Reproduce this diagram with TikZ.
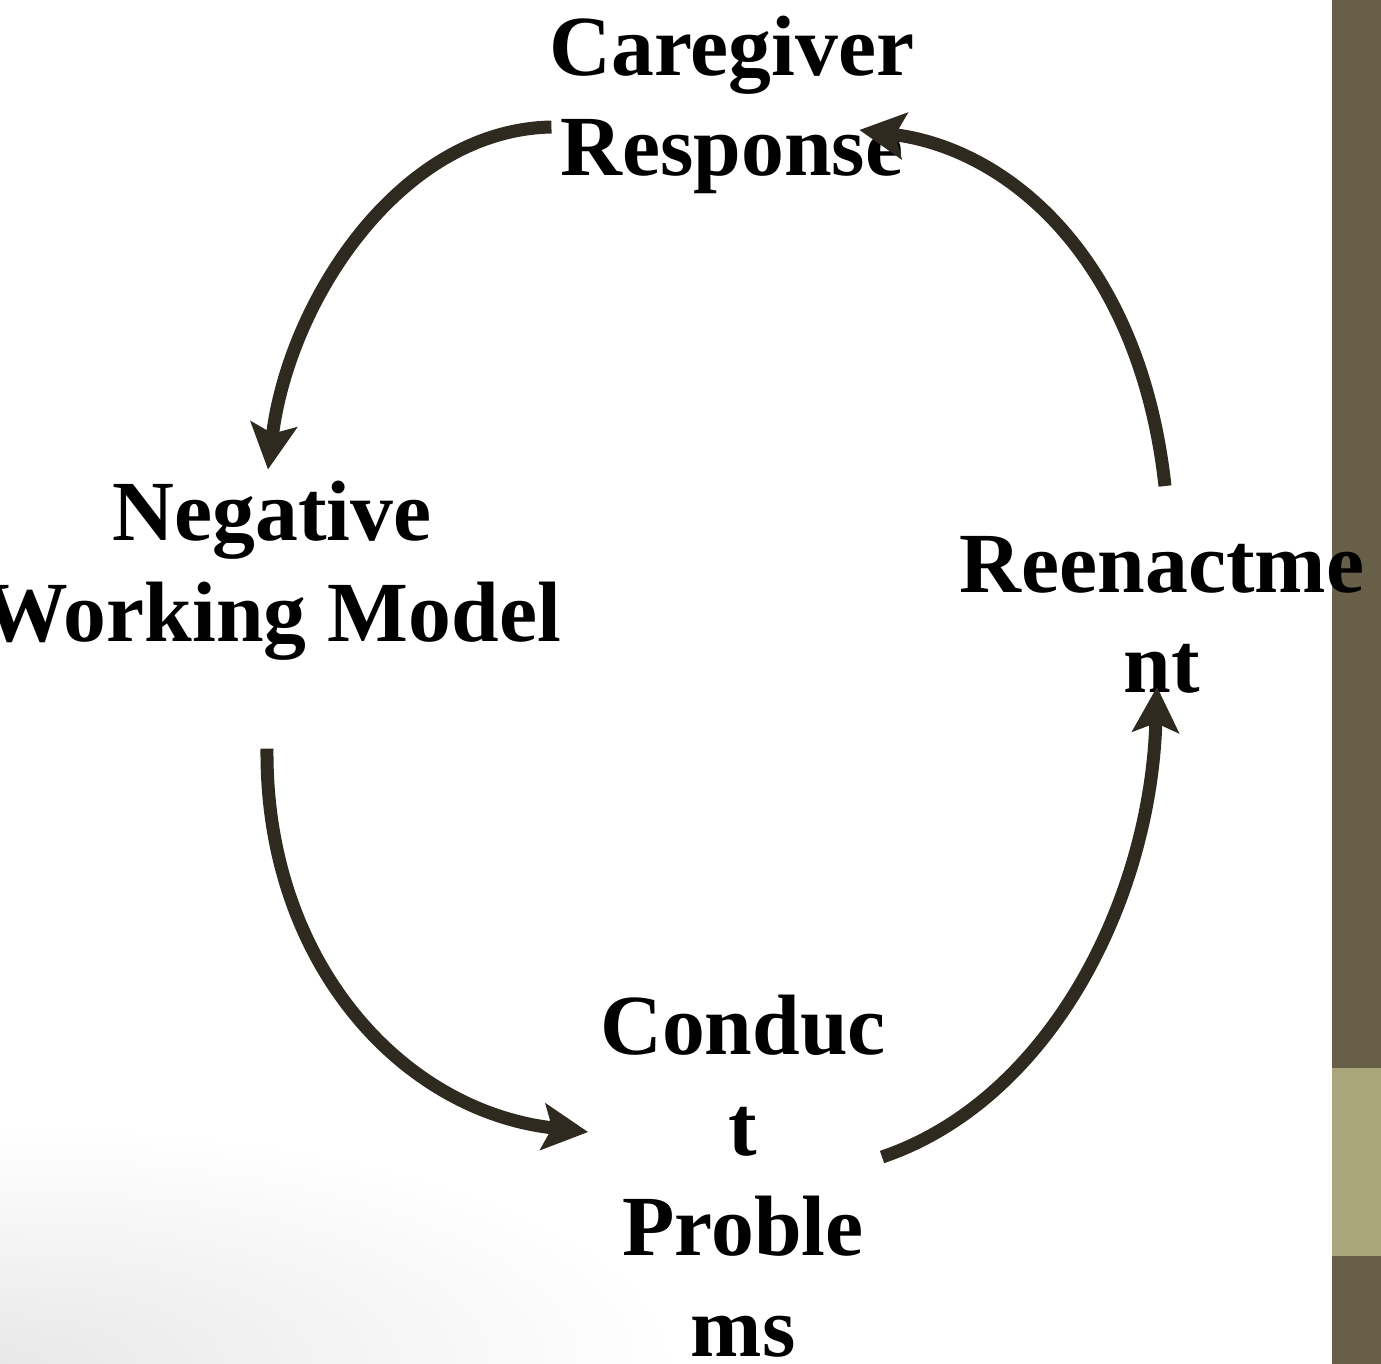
\documentclass[tikz,border=0pt]{standalone}
\usepackage{fontspec}
\setmainfont{Liberation Serif}
\usepackage{xcolor}
\usetikzlibrary{arrows.meta,shapes}
\definecolor{loopArrow}{HTML}{2F2A1F}
\definecolor{barDark}{HTML}{675F48}
\definecolor{barLight}{HTML}{A9A67C}

\begin{document}
\begin{tikzpicture}[x=1bp,y=-1bp,line join=bevel,
  >={Stealth[length=46bp,width=48bp,inset=10bp,line width=1bp]},
  stage/.style={align=center,inner sep=0pt,font=\fontsize{86}{101}\selectfont\bfseries},
  cycle/.style={->,draw=loopArrow,fill=none,line width=13bp}]
\useasboundingbox (0,0) rectangle (1381,1364);
%%
\begin{scope}
  \clip (0,0) rectangle (1332,1364);
  \shade[inner color=black!9,outer color=white] (0,1364) ellipse (680 and 240);
\end{scope}
\fill[barDark] (1332,0) rectangle (1381,1068);
\fill[barLight] (1332,1068) rectangle (1381,1256);
\fill[barDark] (1332,1256) rectangle (1381,1364);
%%
\node (care) at (732,105) [stage] {Caregiver\\Response};
  \node (neg) at (272,571) [stage] {Negative\\Working Model};
  \node (cond) at (743,1176) [stage] {Conduc\\t\\Proble\\ms};
  \node (reen) at (1162,615) [stage] {Reenactme\\nt};
  \draw [cycle] ([shift={(2,22)}]care.west) ..controls (400,130) and (290,300) .. ([shift={(-4,-12)}]neg.north);
  \draw [cycle] ([shift={(-5,88)}]neg.south) ..controls (265,960) and (400,1110) .. ([shift={(-12,-44)}]cond.west);
  \draw [cycle] ([shift={(-4,-19)}]cond.east) ..controls (1050,1100) and (1150,900) .. ([shift={(-5,-7)}]reen.south);
  \draw [cycle] ([shift={(3,-50)}]reen.north) ..controls (1140,260) and (1010,150) .. ([shift={(-55,25)}]care.east);
%
\end{tikzpicture}
\end{document}
